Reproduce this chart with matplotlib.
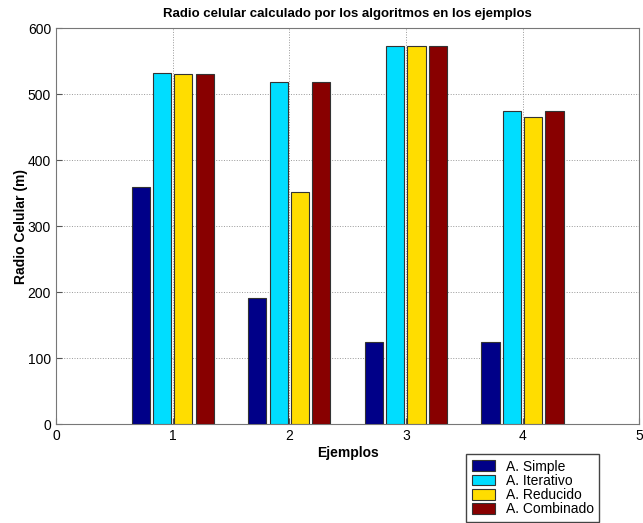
import numpy as np
import matplotlib.pyplot as plt

plt.rcParams['font.family'] = ['Liberation Sans', 'DejaVu Sans']

ejemplos = [1, 2, 3, 4]
series = ['A. Simple', 'A. Iterativo', 'A. Reducido', 'A. Combinado']
simple = [359, 191, 124, 124]
iterativo = [532, 518, 573, 475]
reducido = [530, 352, 573, 466]
combinado = [531, 518, 573, 475]
colores = ['#000088', '#00DDFF', '#FFDD00', '#880000']

valores = [simple, iterativo, reducido, combinado]

fig = plt.figure(figsize=(6.43, 5.23), dpi=100)
ax = fig.add_axes([0.087, 0.189, 0.907, 0.757])

ancho = 0.155
paso = 0.183
x = np.array(ejemplos, dtype=float)
for i, (nombre, vals, col) in enumerate(zip(series, valores, colores)):
    desp = (i - 1.5) * paso
    ax.bar(x + desp, vals, ancho, color=col, edgecolor='#333333',
           linewidth=0.8, label=nombre, zorder=3)

ax.set_xlim(0, 5)
ax.set_ylim(0, 600)
ax.set_xticks(range(0, 6))
ax.set_yticks(range(0, 700, 100))
ax.grid(True, linestyle=':', color='#999999', linewidth=0.7, zorder=0)
ax.tick_params(direction='in', labelsize=10, length=4, color='#555555')
for s in ax.spines.values():
    s.set_color('#777777')

ax.set_title('Radio celular calculado por los algoritmos en los ejemplos',
             fontsize=9.5, fontweight='bold', pad=8)
ax.set_xlabel('Ejemplos', fontsize=10, fontweight='bold', labelpad=2)
ax.set_ylabel('Radio Celular (m)', fontsize=10, fontweight='bold', labelpad=0)

fig.legend(loc='upper left', bbox_to_anchor=(466 / 643, 1 - 454 / 523),
           fontsize=10, fancybox=False, edgecolor='#444444', framealpha=1,
           borderpad=0.4, labelspacing=0.02, handlelength=1.7,
           handleheight=0.8, handletextpad=0.75, borderaxespad=0)

fig.savefig('out.png', dpi=100)
